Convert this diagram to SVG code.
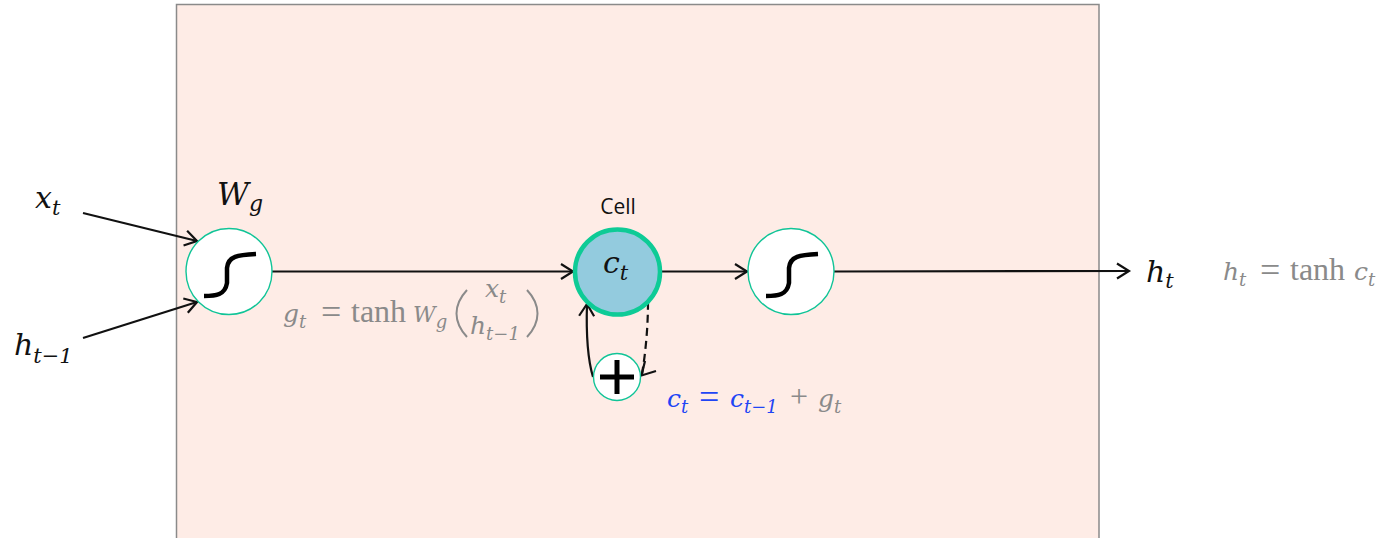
<svg xmlns="http://www.w3.org/2000/svg" width="1384" height="538" viewBox="0 0 1384 538">
<defs>
<style>
.m{font-family:"DejaVu Serif",serif;font-style:italic;font-size:30px;fill:#111}
.s{font-size:21px}
.g{font-family:"DejaVu Serif",serif;font-size:25px;fill:#8a8a8a;font-style:italic}
.gs{font-size:18px}
.r{font-family:"Liberation Serif",serif;font-style:normal;font-size:32px}
.e{font-family:"Liberation Serif",serif;font-style:normal;font-size:36px}
.b{fill:#1f45f5}
.c{stroke:#111;stroke-width:2.200;fill:none}
.n{fill:#fff;stroke:#10c497;stroke-width:1.400}
.sig{fill:none;stroke:#000;stroke-width:4.500}
</style>
<marker id="a" markerUnits="userSpaceOnUse" markerWidth="20" markerHeight="20" refX="15" refY="10" orient="auto"><path d="M3 2.500L15 10L3 17.500" fill="none" stroke="#111" stroke-width="2.200"/></marker>
</defs>
<rect x="176.500" y="4.500" width="922.500" height="560" fill="#feece6" stroke="#8a8a8a" stroke-width="1.500"/>
<g id="connectors">
<path class="c" d="M83 213L197 241" marker-end="url(#a)"/>
<path class="c" d="M83 338L197 302" marker-end="url(#a)"/>
<path class="c" d="M272 271.500H573" marker-end="url(#a)"/>
<path class="c" d="M662 271.500H747" marker-end="url(#a)"/>
<path class="c" d="M834 271.500L1129 271" marker-end="url(#a)"/>
<path class="c" d="M593 377C588 360 586 335 587 304" marker-end="url(#a)"/>
<path class="c" stroke-dasharray="8 5" d="M648 302C648 325 646 350 642 374"/>
<path class="c" d="M656 371L641.500 375.500L645 361"/>
</g>
<g id="node-wg">
<circle class="n" cx="229" cy="271.500" r="43"/>
<path class="sig" d="M204 296C216 296 225 295 227 283V268C228 256 238 255 256 254"/>
<text class="m" x="217" y="205" style="font-size:31px">W<tspan class="s" dy="6" style="font-size:22px">g</tspan></text>
</g>
<g id="node-cell">
<circle cx="617.500" cy="272" r="42.500" fill="#93cbde" stroke="#0ecb96" stroke-width="4.500"/>
<text x="618" y="213.500" text-anchor="middle" font-family="'Open Sans','Liberation Sans',sans-serif" font-size="21" fill="#111">Cell</text>
<text class="m" x="603" y="273">c<tspan class="s" dy="7">t</tspan></text>
</g>
<g id="node-out">
<circle class="n" cx="791" cy="271.500" r="43"/>
<path class="sig" d="M766 296C778 296 787 295 789 283V268C790 256 800 255 818 254"/>
</g>
<g id="node-plus">
<circle class="n" cx="617" cy="377" r="23.500"/>
<path d="M600 377H634M617 360V394" stroke="#000" stroke-width="5" fill="none"/>
</g>
<g id="labels">
<text class="m" x="35" y="208">x<tspan class="s" dy="7">t</tspan></text>
<text class="m" x="14" y="355">h<tspan class="s" dy="8">t−1</tspan></text>
<text class="m" x="1146" y="282">h<tspan class="s" dy="6">t</tspan></text>
<text class="g" x="1223" y="280">h<tspan class="gs" dy="6">t</tspan><tspan class="e" dy="-4" x="1260">=</tspan><tspan class="r" dy="-2" x="1290">tanh</tspan><tspan x="1354">c</tspan><tspan class="gs" dy="6">t</tspan></text>
<text class="g" x="283" y="322">g<tspan class="gs" dy="6">t</tspan><tspan class="e" dy="-4" x="321">=</tspan><tspan class="r" dy="-2" x="351">tanh</tspan><tspan x="413" style="font-size:22px">W</tspan><tspan class="gs" dy="6">g</tspan></text>
<path d="M467 290C453 305 453 322 467 337M527 290C541 305 541 322 527 337" fill="none" stroke="#8a8a8a" stroke-width="2"/>
<text class="g" x="485" y="297">x<tspan class="gs" dy="6">t</tspan></text>
<text class="g" x="470" y="334">h<tspan class="gs" dy="6">t−1</tspan></text>
<text class="g" x="667" y="407"><tspan class="b">c</tspan><tspan class="gs b" dy="6">t</tspan><tspan class="e b" dy="-4" x="699">=</tspan><tspan class="b" dy="-2" x="730">c</tspan><tspan class="gs b" dy="6">t−1</tspan><tspan class="r" dy="-6" x="790">+</tspan><tspan x="818">g</tspan><tspan class="gs" dy="6">t</tspan></text>
</g>
</svg>
